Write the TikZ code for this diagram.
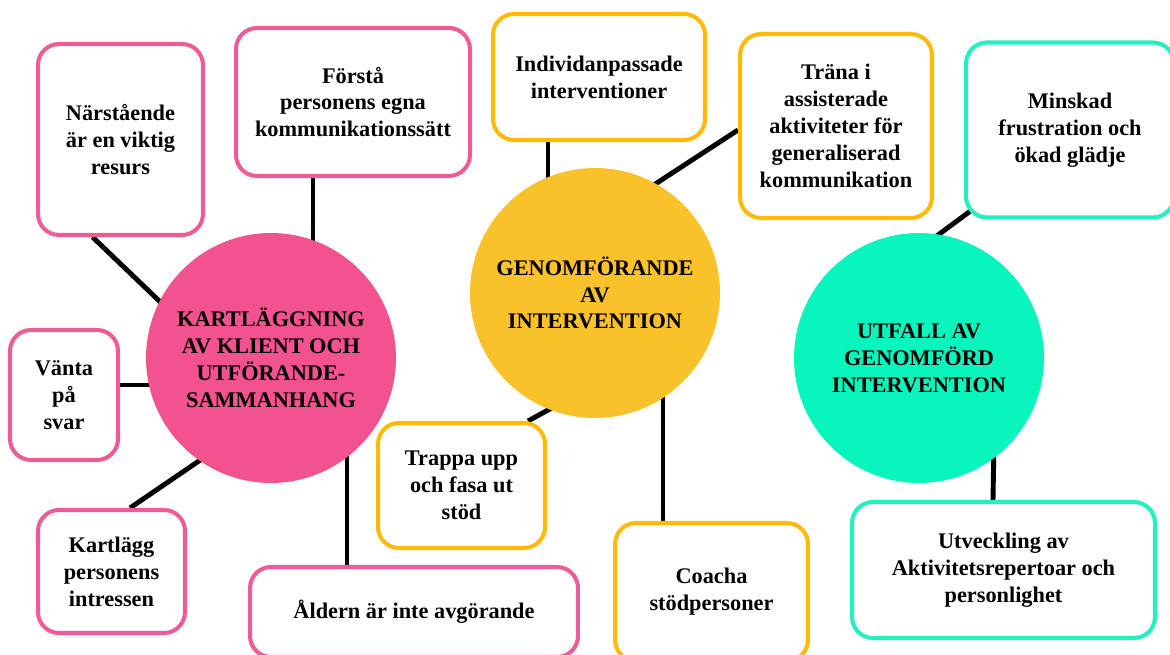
\documentclass[tikz,border=0pt]{standalone}
\usepackage{fontspec}
\setmainfont{Liberation Serif}
\usepackage{tikz}
\usetikzlibrary{backgrounds,calc}

\definecolor{rosa}{RGB}{242,82,144}
\definecolor{rosaline}{RGB}{238,92,152}
\definecolor{gul}{RGB}{250,194,42}
\definecolor{gulline}{RGB}{255,186,8}
\definecolor{turkos}{RGB}{8,246,190}
\definecolor{turkosline}{RGB}{34,240,192}

\newcommand\mapfont{\fontsize{12.7}{15.3}\bfseries\selectfont}

\begin{document}
\begin{tikzpicture}[x=0.02cm,y=-0.02cm,
    box/.style={draw,line width=2.3pt,rounded corners=0.42cm,fill=white,
      align=center,font=\mapfont,inner sep=0pt},
    hub/.style={circle,inner sep=0pt,align=center,font=\mapfont,minimum size=5cm},
    link/.style={line width=2.8pt,black}]
  \useasboundingbox (0,0) rectangle (1170,655);

  % hubs
  \node[hub,fill=rosa] (kart) at (271,358)
    {KARTLÄGGNING\\AV KLIENT OCH\\UTFÖRANDE-\\SAMMANHANG};
  \node[hub,fill=gul] (genom) at (595,293)
    {GENOMFÖRANDE\\AV\\INTERVENTION};
  \node[hub,fill=turkos] (utfall) at (919,358)
    {UTFALL AV\\GENOMFÖRD\\INTERVENTION};

  % pink boxes
  \node[box,draw=rosaline,minimum width=3.3cm,minimum height=3.82cm] (nar) at (120.5,139.5)
    {Närstående\\är en viktig\\resurs};
  \node[box,draw=rosaline,minimum width=4.68cm,minimum height=2.96cm] (forsta) at (353,102)
    {Förstå\\personens egna\\kommunikationssätt};
  \node[box,draw=rosaline,minimum width=2.16cm,minimum height=2.6cm] (vanta) at (64,395)
    {Vänta\\på\\svar};
  \node[box,draw=rosaline,minimum width=2.94cm,minimum height=2.46cm] (kartlagg) at (111.5,571.5)
    {Kartlägg\\personens\\intressen};
  \node[box,draw=rosaline,minimum width=6.56cm,minimum height=1.8cm] (alder) at (414,612)
    {Åldern är inte avgörande};

  % yellow boxes
  \node[box,draw=gulline,minimum width=4.24cm,minimum height=2.52cm] (indiv) at (599,77)
    {Individanpassade\\interventioner};
  \node[box,draw=gulline,minimum width=3.84cm,minimum height=3.68cm] (trana) at (836,126)
    {Träna i\\assisterade\\aktiviteter för\\generaliserad\\kommunikation};
  \node[box,draw=gulline,minimum width=3.34cm,minimum height=2.5cm] (trappa) at (461.5,485.5)
    {Trappa upp\\och fasa ut\\stöd};
  \node[box,draw=gulline,minimum width=3.86cm,minimum height=2.76cm] (coacha) at (711.5,592)
    {Coacha\\stödpersoner};

  % green boxes
  \node[box,draw=turkosline,minimum width=4.16cm,minimum height=3.5cm] (minskad) at (1070,130)
    {Minskad\\frustration och\\ökad glädje};
  \node[box,draw=turkosline,minimum width=6.06cm,minimum height=2.72cm] (utv) at (1003.5,570)
    {Utveckling av\\Aktivitetsrepertoar och\\personlighet};

  \begin{scope}[on background layer]
    \draw[link] ($(nar.south)+(-28,0)$) -- ($(kart.center)+(-71,-18)$);
    \draw[link] ($(forsta.south)+(-40,0)$) -- ($(kart.center)+(42,-58)$);
    \draw[link] ($(vanta.east)+(0,-10)$) -- ($(kart.center)+(-60,27)$);
    \draw[link] ($(kartlagg.north)+(18.5,0)$) -- ($(kart.center)+(-56,92)$);
    \draw[link] ($(alder.north)+(-67,0)$) -- ($(kart.center)+(76,42)$);
    \draw[link] ($(indiv.south)+(-51,0)$) -- ($(genom.center)+(-47,-80)$);
    \draw[link] ($(trana.west)+(0,4)$) -- ($(genom.center)+(45,-99)$);
    \draw[link] ($(trappa.north)+(66.5,0)$) -- ($(genom.center)+(-25,105)$);
    \draw[link] ($(coacha.north)+(-48.5,0)$) -- ($(genom.center)+(68,90)$);
    \draw[link] ($(minskad.south west)+(24,-21.5)$) -- ($(utfall.center)+(-8,-103)$);
    \draw[link] ($(utv.north)+(-10.5,0)$) -- ($(utfall.center)+(75,80)$);
  \end{scope}
\end{tikzpicture}
\end{document}
